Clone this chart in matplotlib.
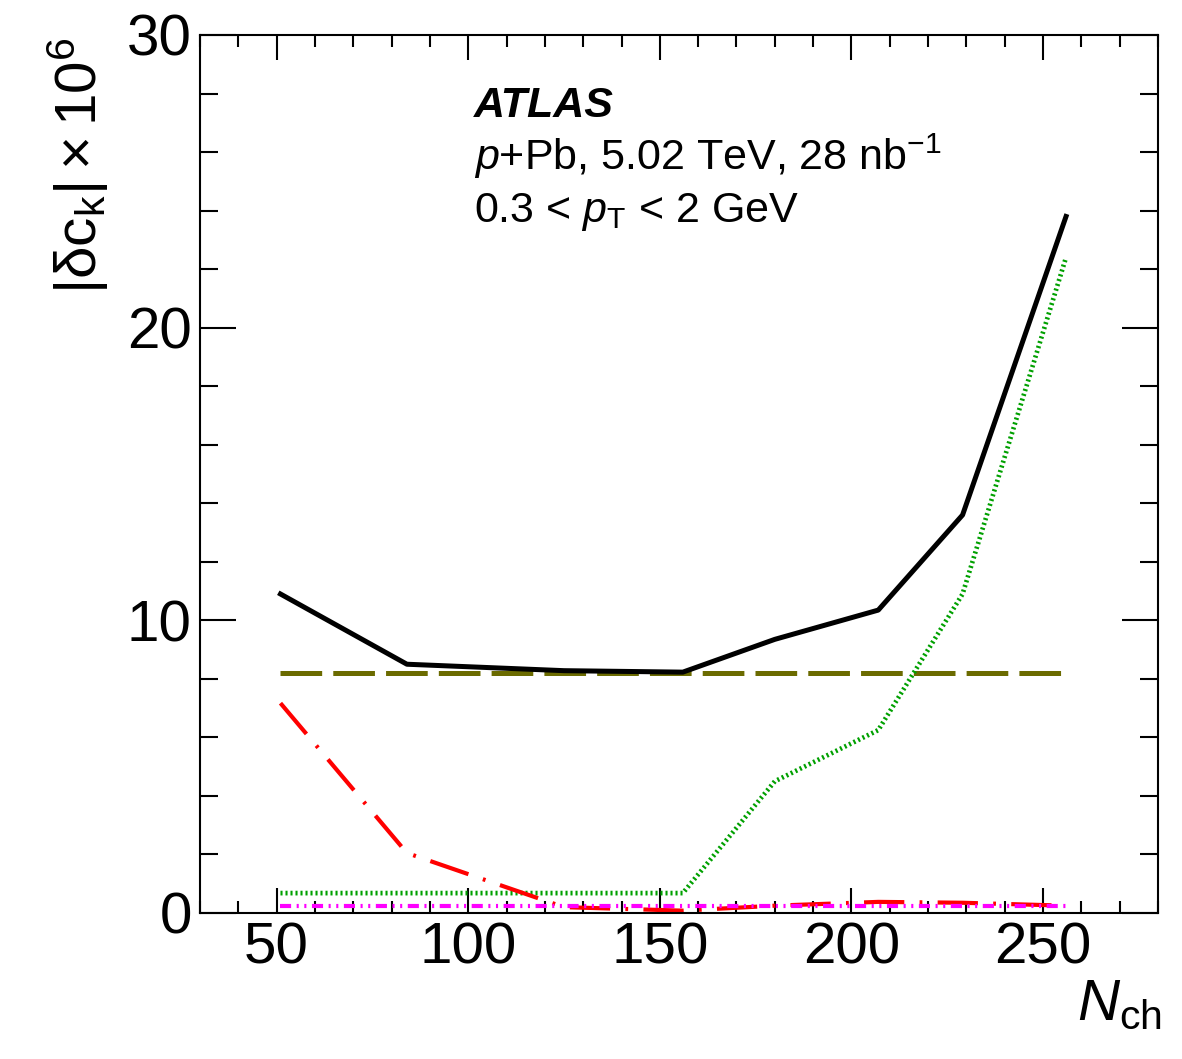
import numpy as np
import matplotlib
matplotlib.use("Agg")
import matplotlib.pyplot as plt
from matplotlib.ticker import MultipleLocator

plt.rcParams['font.family'] = ['Liberation Sans', 'DejaVu Sans']
plt.rcParams['mathtext.fontset'] = 'custom'
plt.rcParams['mathtext.rm'] = 'Liberation Sans'
plt.rcParams['mathtext.it'] = 'Liberation Sans:italic'
plt.rcParams['mathtext.bf'] = 'Liberation Sans:bold'
plt.rcParams['lines.scale_dashes'] = False

# N_ch bin positions
nch = [51, 84, 125, 156, 180, 207, 229, 256]

total = [10.9, 8.5, 8.28, 8.23, 9.35, 10.35, 13.6, 23.8]
flat_sys = [8.2, 8.2, 8.2, 8.2, 8.2, 8.2, 8.2, 8.2]
green_sys = [0.68, 0.68, 0.68, 0.68, 4.5, 6.25, 10.9, 22.4]
red_sys = [7.17, 2.05, 0.2, 0.08, 0.25, 0.38, 0.35, 0.25]
magenta_sys = [0.24, 0.24, 0.24, 0.24, 0.24, 0.24, 0.24, 0.24]

fig = plt.figure(figsize=(11.82, 10.59), dpi=100)
ax = fig.add_axes([200/1182, 1-913/1059, 958/1182, 878/1059])

ax.plot(nch, flat_sys, color="#6b6b00", lw=3.6, dashes=(30, 8), solid_capstyle='butt', dash_capstyle='butt')
ax.plot(nch, green_sys, color="#00a000", lw=3.4, dashes=(1.5, 2.1), dash_capstyle='butt')
ax.plot(nch, red_sys, color="#ff0000", lw=3.0, dashes=(29, 11, 2, 11), dash_capstyle='butt')
ax.plot(nch, magenta_sys, color="#ff00ff", lw=3.0, dashes=(8, 4, 1.5, 4, 1.5, 4), dash_capstyle='butt')
ax.plot(nch, total, color="black", lw=3.6)

ax.set_xlim(30, 280)
ax.set_ylim(0, 30)
ax.xaxis.set_major_locator(MultipleLocator(50))
ax.xaxis.set_minor_locator(MultipleLocator(10))
ax.yaxis.set_major_locator(MultipleLocator(10))
ax.yaxis.set_minor_locator(MultipleLocator(2))

for s in ax.spines.values():
    s.set_linewidth(1.5)
ax.tick_params(axis='x', which='both', direction='in', top=True, bottom=True, width=1.5, labelsize=42, pad=6)
ax.tick_params(axis='x', which='major', length=18)
ax.tick_params(axis='x', which='minor', length=8.6)
ax.tick_params(axis='y', which='both', direction='in', left=True, right=True, width=1.5, labelsize=42, pad=6)
ax.tick_params(axis='y', which='major', length=26)
ax.tick_params(axis='y', which='minor', length=13)

fig.text(78/1182, 1-38/1059, r'$|\mathrm{\delta c}_{\mathrm{k}}| \times 10^{6}$', rotation=90,
         ha='center', va='top', fontsize=42)
fig.text(1162/1182, 1-1020/1059, r'$N_{\mathrm{ch}}$', ha='right', va='baseline', fontsize=42)

ax.text(474/1182, 1-117/1059, 'ATLAS', transform=fig.transFigure, fontsize=31,
        fontweight='bold', fontstyle='italic', va='baseline')
ax.text(474/1182, 1-170/1059, r'$p$+Pb, 5.02 TeV, 28 nb$^{\mathrm{-1}}$', transform=fig.transFigure,
        fontsize=31, va='baseline')
ax.text(474/1182, 1-222/1059, r'0.3 < $p_{\mathrm{T}}$ < 2 GeV', transform=fig.transFigure,
        fontsize=31, va='baseline')

fig.savefig("out.png", dpi=100)
